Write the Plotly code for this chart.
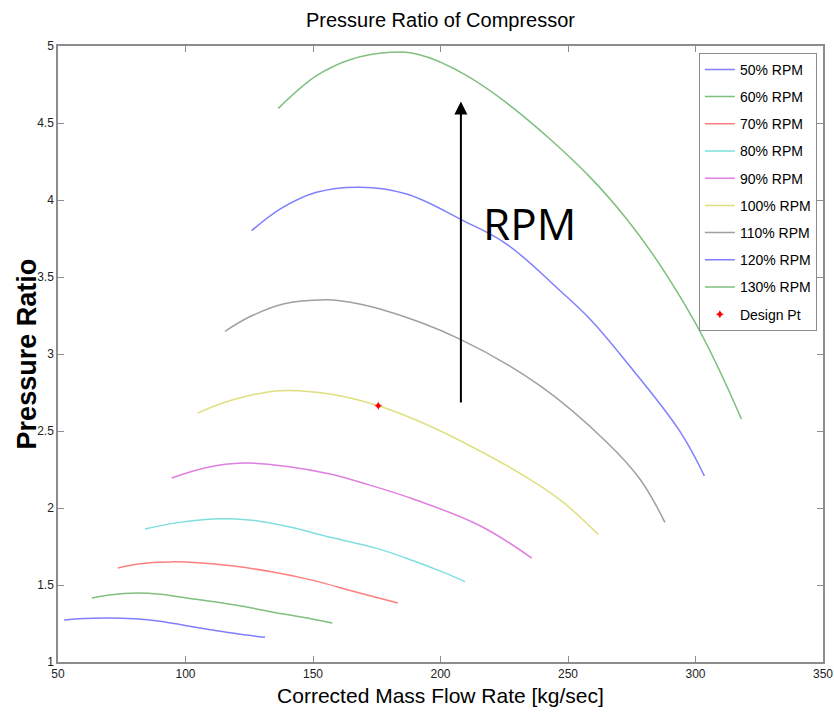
import plotly.graph_objects as go

# ---- data ----
rpm50_x = [52.4, 60, 69.2, 80, 90, 100.4, 108, 116.1, 124, 131.2]
rpm50_y = [1.273, 1.282, 1.286, 1.281, 1.265, 1.236, 1.215, 1.193, 1.175, 1.160]

rpm60_x = [63.3, 70, 81, 90, 100.4, 112, 123, 134.4, 146, 157.6]
rpm60_y = [1.416, 1.435, 1.448, 1.440, 1.416, 1.390, 1.360, 1.323, 1.290, 1.253]

rpm70_x = [73.5, 82, 93.9, 105, 118, 134.3, 150, 167.1, 183.3]
rpm70_y = [1.610, 1.638, 1.650, 1.645, 1.625, 1.584, 1.530, 1.453, 1.383]

rpm80_x = [84.1, 97, 110.9, 125, 140, 156.7, 175, 189.3, 200, 209.6]
rpm80_y = [1.864, 1.905, 1.929, 1.922, 1.880, 1.810, 1.738, 1.658, 1.590, 1.522]

rpm90_x = [94.6, 108, 122.7, 140, 156.7, 172, 189.3, 215.5, 235.8]
rpm90_y = [2.195, 2.262, 2.292, 2.270, 2.221, 2.150, 2.058, 1.885, 1.675]

rpm100_x = [104.8, 118, 137, 156.7, 175.6, 192, 208.9, 234.9, 247.9, 261.9]
rpm100_y = [2.617, 2.700, 2.762, 2.740, 2.664, 2.560, 2.427, 2.188, 2.040, 1.827]

rpm110_x = [115.5, 125, 138.3, 155, 160.6, 176.3, 207.6, 239, 265.2, 278.2, 288]
rpm110_y = [3.147, 3.240, 3.325, 3.352, 3.346, 3.292, 3.097, 2.794, 2.427, 2.188, 1.907]

rpm120_x = [125.9, 138, 151.4, 168.4, 186.7, 208.9, 225.9, 246.9, 258.6, 273, 293.7, 303.5]
rpm120_y = [3.800, 3.950, 4.050, 4.083, 4.039, 3.866, 3.714, 3.411, 3.227, 2.946, 2.502, 2.208]

rpm130_x = [136.4, 151.4, 164.5, 180.2, 190.7, 210.3, 242.9, 273, 299.1, 318]
rpm130_y = [4.595, 4.807, 4.911, 4.959, 4.948, 4.807, 4.396, 3.877, 3.227, 2.578]

design_x = [175.6]
design_y = [2.664]

series_names = ["50% RPM", "60% RPM", "70% RPM", "80% RPM", "90% RPM",
                "100% RPM", "110% RPM", "120% RPM", "130% RPM"]
series_x = [rpm50_x, rpm60_x, rpm70_x, rpm80_x, rpm90_x, rpm100_x, rpm110_x, rpm120_x, rpm130_x]
series_y = [rpm50_y, rpm60_y, rpm70_y, rpm80_y, rpm90_y, rpm100_y, rpm110_y, rpm120_y, rpm130_y]
series_colors = ["#7f7fff", "#7fbf7f", "#ff7f7f", "#7fdfdf", "#df7fdf",
                 "#dfdf7f", "#a0a0a0", "#7f7fff", "#7fbf7f"]

x_ticks = [50, 100, 150, 200, 250, 300, 350]
y_ticks = [1, 1.5, 2, 2.5, 3, 3.5, 4, 4.5, 5]
y_tick_text = ["1", "1.5", "2", "2.5", "3", "3.5", "4", "4.5", "5"]

arrow_x = 208
arrow_y0 = 2.675
arrow_y1 = 4.64
label_x = 235
label_y = 3.85

FONT = "Liberation Sans, Arial, sans-serif"

fig = go.Figure()
for i, (name, xs, ys, c) in enumerate(zip(series_names, series_x, series_y, series_colors)):
    fig.add_trace(go.Scatter(
        x=xs, y=ys, mode="lines", name=name,
        line=dict(color=c, width=1.5, shape="spline", smoothing=1.1),
        legendgroup=f"g{i}",
    ))
fig.add_trace(go.Scatter(
    x=design_x, y=design_y, mode="markers", name="Design Pt",
    marker=dict(color="red", size=6, symbol="star-diamond"),
    legendgroup="gd",
))

fig.add_annotation(
    x=arrow_x, y=arrow_y1, ax=arrow_x, ay=arrow_y0,
    xref="x", yref="y", axref="x", ayref="y",
    showarrow=True, arrowhead=2, arrowsize=1.3, arrowwidth=2, arrowcolor="black", text="",
)
fig.add_annotation(
    x=label_x, y=label_y, xref="x", yref="y", text="RPM", showarrow=False,
    font=dict(family="Open Sans, sans-serif", size=44, color="black"),
)
# y-axis title placed close to the tick labels, as in the reference
fig.add_annotation(
    x=-0.040, y=0.5, xref="paper", yref="paper", text="<b>Pressure Ratio</b>",
    textangle=-90, showarrow=False, xanchor="center", yanchor="middle",
    font=dict(family=FONT, size=27, color="black"),
)

axis_common = dict(
    showgrid=False, zeroline=False, showline=True, linecolor="#8c8c8c", linewidth=1.5,
    mirror="ticks", ticks="inside", ticklen=6, tickcolor="#8c8c8c",
    tickfont=dict(family=FONT, size=12, color="#222"),
)

fig.update_layout(
    width=834, height=716,
    margin=dict(l=58, r=11, t=46, b=54, autoexpand=False),
    paper_bgcolor="white", plot_bgcolor="white",
    title=dict(text="Pressure Ratio of Compressor", x=0.5, xref="paper", xanchor="center",
               y=0.972, yanchor="middle", font=dict(family=FONT, size=20, color="black")),
    xaxis=dict(range=[50, 350], tickvals=x_ticks, ticktext=[str(v) for v in x_ticks],
               title=dict(text="Corrected Mass Flow Rate [kg/sec]", standoff=8,
                          font=dict(family=FONT, size=21, color="black")),
               **axis_common),
    yaxis=dict(range=[1, 5], tickvals=y_ticks, ticktext=y_tick_text, **axis_common),
    legend=dict(x=0.992, y=0.989, xanchor="right", yanchor="top",
                bgcolor="white", bordercolor="#8c8c8c", borderwidth=1,
                font=dict(family=FONT, size=14, color="black"),
                tracegroupgap=6, traceorder="grouped"),
    showlegend=True,
)

fig.write_html("out.html")
